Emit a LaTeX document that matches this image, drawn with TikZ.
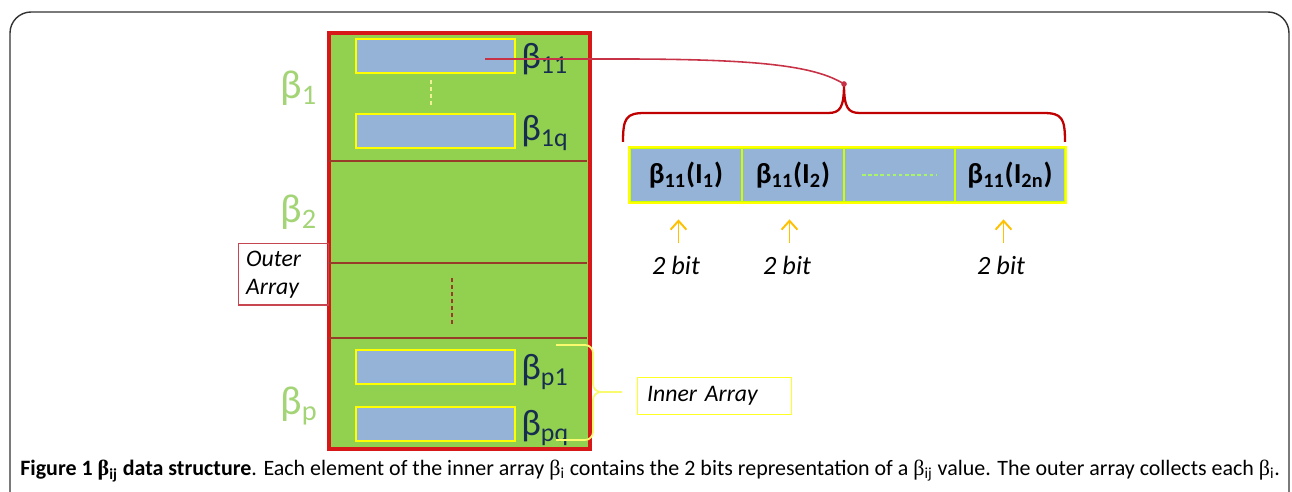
\documentclass[tikz,border=0pt]{standalone}
\usepackage{fontspec}
\setmainfont{Carlito}
\newfontfamily\grk{Liberation Serif}
\usepackage{tikz}
\usetikzlibrary{positioning}
\usetikzlibrary{decorations.pathreplacing}
\usetikzlibrary{arrows.meta}
\usepackage{xcolor}
\definecolor{argreen}{RGB}{146,208,80}
\definecolor{argred}{RGB}{214,24,24}
\definecolor{divbrown}{RGB}{150,60,40}
\definecolor{cellblue}{RGB}{149,179,215}
\definecolor{boxyellow}{RGB}{255,255,0}
\definecolor{lblnavy}{RGB}{23,45,80}
\definecolor{lblgreen}{RGB}{163,212,118}
\definecolor{linkred}{RGB}{200,50,70}
\definecolor{bracered}{RGB}{192,0,0}
\definecolor{bitorange}{RGB}{255,192,0}
\definecolor{paleyellow}{RGB}{240,240,150}
\definecolor{outerpink}{RGB}{200,70,80}
\definecolor{innerbrace}{RGB}{250,250,110}

\begin{document}
\begin{tikzpicture}[x=0.02cm, y=-0.02cm,
    outerarr/.style={draw=argred, line width=1.6pt, fill=argreen, inner sep=0pt},
    divline/.style={divbrown, line width=1pt},
    innerbox/.style={draw=boxyellow, line width=1.4pt, fill=cellblue, inner sep=0pt, minimum width=3.18cm, minimum height=0.68cm, anchor=north west},
    navylbl/.style={text=lblnavy, inner sep=0pt, font=\fontsize{21}{24}\selectfont},
    greenlbl/.style={text=lblgreen, inner sep=0pt, font=\fontsize{23}{26}\selectfont},
    cell/.style={draw=boxyellow!80!green, line width=1pt, fill=cellblue, inner sep=0pt, minimum height=1.08cm, font=\bfseries\fontsize{16.5}{19}\selectfont},
    bitlbl/.style={inner sep=0pt, font=\itshape\fontsize{15}{18}\selectfont},
    bitarrow/.style={bitorange, line width=1.1pt, -{Straight Barb[length=5pt,width=9pt]}},
    tagbox/.style={line width=0.8pt, inner sep=4pt, anchor=north west, align=left, font=\itshape\fontsize{13.5}{16}\selectfont}]
    \useasboundingbox (0,0) rectangle (1292,492);
    % frame round the figure
    \draw[black!80, line width=0.8pt, rounded corners=12pt] (10,492) -- (10,12) -- (1289,12) -- (1289,492);

    % outer array
    \node[outerarr, minimum width=5.2cm, minimum height=8.3cm, anchor=north west] (outer) at (328,32) {};
    \draw[divline] (329,161) -- (587,161);
    \draw[divline] (329,263) -- (587,263);
    \draw[divline] (329,338) -- (587,338);
    \draw[argred, line width=1.6pt] (outer.north west) rectangle (outer.south east);
    \draw[paleyellow, dashed, dash pattern=on 2pt off 2pt, line width=0.8pt] (431,80) -- (431,108);
    \draw[divbrown, dashed, dash pattern=on 2pt off 2pt, line width=0.8pt] (452,278) -- (452,326);

    % inner arrays
    \node[innerbox] (b11) at (355,38) {};
    \node[innerbox] (b1q) at (355,113) {};
    \node[innerbox] (bp1) at (355,349) {};
    \node[innerbox] (bpq) at (355,406) {};
    \node[navylbl, anchor=west] (l11) at (521,59) {β\textsubscript{11}};
    \node[navylbl, anchor=west] (l1q) at (521,133) {β\textsubscript{1q}};
    \node[navylbl, anchor=west] (lp1) at (521,372) {β\textsubscript{p1}};
    \node[navylbl, anchor=west] (lpq) at (521,428) {β\textsubscript{pq}};

    \node[greenlbl, anchor=west] (g1) at (280,88) {β\textsubscript{1}};
    \node[greenlbl, anchor=west] (g2) at (280,212) {β\textsubscript{2}};
    \node[greenlbl, anchor=west] (gp) at (280,406) {β\textsubscript{p}};

    \node[tagbox, draw=outerpink, minimum width=1.8cm, minimum height=1.2cm, text width=1.5cm] (outertag) at (238,243) {Outer\\Array};

    % bits of one element
    \node[cell, minimum width=2.24cm] (c1) at (686,175) {β\textsubscript{11}(I\textsubscript{1})};
    \node[cell, minimum width=2.04cm] (c2) at (793,175) {β\textsubscript{11}(I\textsubscript{2})};
    \node[cell, minimum width=2.22cm] (c3) at (899.5,175) {};
    \node[cell, minimum width=2.2cm] (c4) at (1010,175) {β\textsubscript{11}(I\textsubscript{2n})};
    \draw[boxyellow, line width=1.4pt] (c1.north west) rectangle (c4.south east);
    \draw[paleyellow!70!green, dashed, dash pattern=on 2pt off 1.5pt, line width=0.8pt] (862,175) -- (936,175);

    \coordinate (btip) at (844,84);
    \draw[bracered, line width=1.3pt] (623,142) .. controls (623,118) and (626,113) .. (645,113) -- (828,113)
      .. controls (840,113) and (844,108) .. (btip) .. controls (844,108) and (848,113) .. (860,113)
      -- (1043,113) .. controls (1062,113) and (1065,118) .. (1065,142);
    \coordinate (b11src) at (485,59);
    \draw[linkred, line width=0.9pt] (b11src) -- (620,59) .. controls (760,59) and (815,66) .. (btip);
    \fill[linkred] (btip) circle (1.6pt);

    \node[bitlbl] (t1) at (676,265) {2 bit};
    \node[bitlbl] (t2) at (787,265) {2 bit};
    \node[bitlbl] (t3) at (1001,265) {2 bit};
    \foreach \t in {t1,t2,t3}
      \draw[bitarrow] ([xshift=0.05cm, yshift=0.24cm]\t.north) -- ++(0,-24);

    % inner array tag
    \draw[innerbrace, line width=1pt] (556,345) -- (585,345) to[out=0,in=90] (593,353) -- (593,384)
      to[out=-90,in=180] (601,392) -- (622,392);
    \draw[innerbrace, line width=1pt] (601,392) to[out=180,in=90] (593,400) -- (593,432)
      to[out=-90,in=0] (585,440) -- (556,440);
    \coordinate (itip) at (622,392);
    \node[tagbox, draw=boxyellow!85!white, minimum width=3.08cm, minimum height=0.72cm, text width=2.7cm, inner sep=5pt] (innertag) at (637,377) {Inner Array};

    % caption
    \node[anchor=west, inner sep=0pt, font=\fontsize{12.5}{15}\selectfont] (caption) at (20,471)
      {\textbf{Figure 1 {\grk β}\textsubscript{ij} data structure}. Each element of the inner array {\grk β}\textsubscript{i} contains the 2 bits representation of a {\grk β}\textsubscript{ij} value. The outer array collects each {\grk β}\textsubscript{i}.};
\end{tikzpicture}
\end{document}
